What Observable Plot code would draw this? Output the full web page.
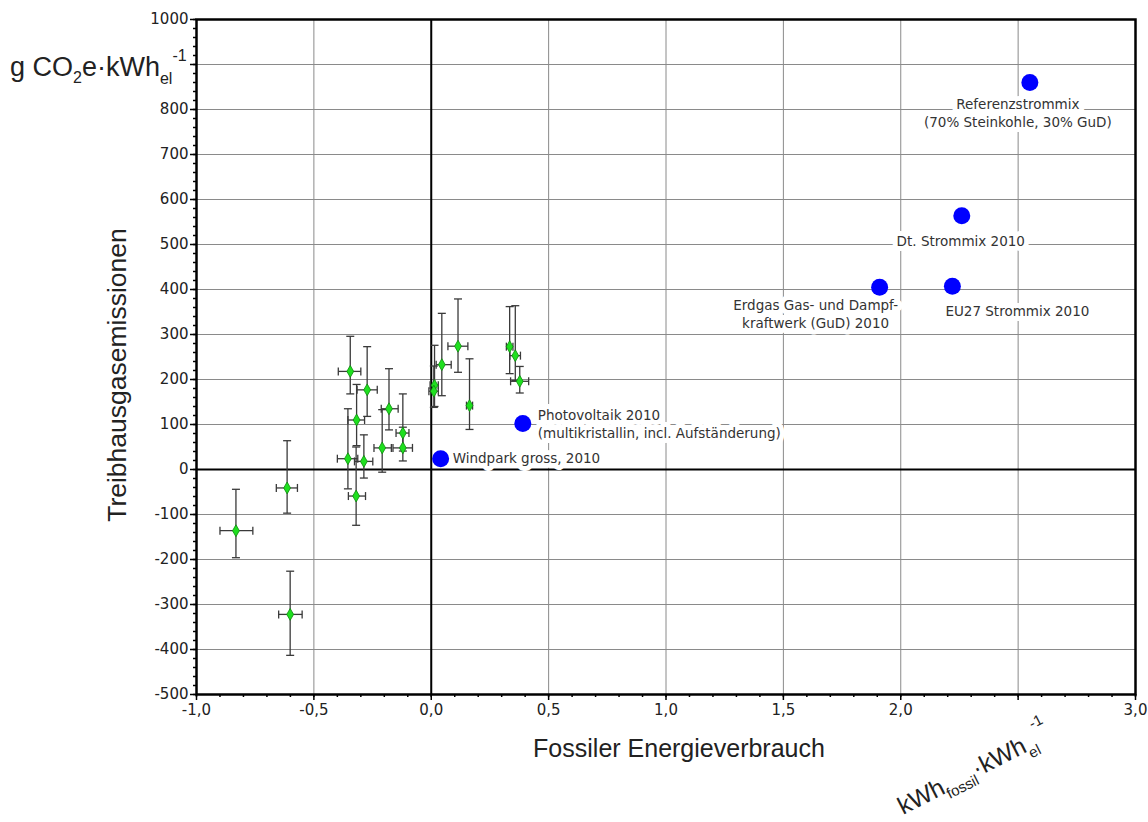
<!DOCTYPE html>
<html>
<head>
<meta charset="utf-8">
<script src="https://cdn.jsdelivr.net/npm/d3@7"></script>
<script src="https://cdn.jsdelivr.net/npm/@observablehq/plot@0.6"></script>
<style>
  body { margin: 0; background: #fff; }
  #chart svg { display: block; overflow: visible; }
</style>
</head>
<body>
<div id="chart"></div>
<script>
// ---------- data ----------
// reference systems (blue dots)
const refNames = [
  "Referenzstrommix\n(70% Steinkohle, 30% GuD)",
  "Dt. Strommix 2010",
  "EU27 Strommix 2010",
  "Erdgas Gas- und Dampf-\nkraftwerk (GuD) 2010",
  "Photovoltaik 2010\n(multikristallin, incl. Aufständerung)",
  "Windpark gross, 2010"
];
const refX = [2.55, 2.26, 2.22, 1.91, 0.39, 0.04];
const refY = [860, 564, 407, 405, 102, 24];

// individual plants (green diamonds with error bars)
const ptX   = [-0.345, -0.273, -0.318, -0.180, -0.355, -0.287, -0.320, -0.209, -0.121, -0.121, 0.045, 0.114, 0.163, 0.334, 0.358, 0.377, 0.014, 0.011, -0.614, -0.832, -0.601];
const ptY   = [218, 177, 110, 135, 24, 18, -59, 48, 81, 48, 233, 274, 142, 273, 253, 196, 187, 174, -41, -136, -322];
const ptXlo = [-0.396, -0.316, -0.355, -0.213, -0.400, -0.327, -0.353, -0.244, -0.150, -0.163, 0.021, 0.071, 0.150, 0.320, 0.335, 0.338, -0.005, -0.010, -0.66, -0.90, -0.65];
const ptXhi = [-0.300, -0.230, -0.284, -0.141, -0.313, -0.249, -0.280, -0.170, -0.095, -0.080, 0.085, 0.156, 0.176, 0.348, 0.380, 0.415, 0.030, 0.030, -0.57, -0.76, -0.55];
const ptYlo = [168, 118, 53, 88, -43, -19, -124, -6, 41, 19, 164, 216, 89, 213, 198, 170, 140, 138, -97, -196, -413];
const ptYhi = [296, 273, 189, 224, 135, 77, 50, 133, 168, 94, 347, 379, 246, 362, 364, 229, 276, 230, 64, -44, -226];

// axis ticks (2,5 and 900 labels are covered by the unit superscripts in the original)
const xTicks = [-1.0, -0.5, 0.0, 0.5, 1.0, 1.5, 2.0, 2.5, 3.0];
const xTickLabels = ["-1,0", "-0,5", "0,0", "0,5", "1,0", "1,5", "2,0", "", "3,0"];
const yTicks = [-500, -400, -300, -200, -100, 0, 100, 200, 300, 400, 500, 600, 700, 800, 900, 1000];
const yTickLabels = ["-500", "-400", "-300", "-200", "-100", "0", "100", "200", "300", "400", "500", "600", "700", "800", "", "1000"];

// ---------- tables ----------
const refs = refNames.map((name, i) => ({name, x: refX[i], y: refY[i], i}));
const pts = ptX.map((x, i) => ({x, y: ptY[i], xlo: ptXlo[i], xhi: ptXhi[i], ylo: ptYlo[i], yhi: ptYhi[i]}));
const xMinor = d3.range(-10, 31).map(d => d / 10);
const yMinor = d3.range(-500, 1001, 20);

// custom cap symbols for error bars
const capH = {draw(ctx, size) { const r = Math.sqrt(size / Math.PI); ctx.moveTo(-r, 0); ctx.lineTo(r, 0); }};
const capV = {draw(ctx, size) { const r = Math.sqrt(size / Math.PI); ctx.moveTo(0, -r); ctx.lineTo(0, r); }};

// label placement (pixel offsets relative to each blue dot)
const place = [
  {dx: -12, dy: 14, textAnchor: "middle", lineAnchor: "top"},
  {dx: -1, dy: 25, textAnchor: "middle", lineAnchor: "middle"},
  {dx: -7, dy: 24, textAnchor: "start", lineAnchor: "middle"},
  {dx: -64, dy: 10, textAnchor: "middle", lineAnchor: "top"},
  {dx: 15, dy: 0, textAnchor: "start", lineAnchor: "middle"},
  {dx: 12, dy: -1, textAnchor: "start", lineAnchor: "middle"}
];
const labelFont = "DejaVu Sans, Verdana, sans-serif";
const labelMarks = refs.map((r, i) => Plot.text([r], {
  x: "x", y: "y", text: "name",
  ...place[i],
  fontSize: 13.5, lineHeight: 1.32,
  fill: "#333", stroke: "white", strokeWidth: 10, strokeLinejoin: "round",
  fontFamily: labelFont
}));

const errColor = "#3a3a3a";
const tickFont = "DejaVu Sans, Verdana, sans-serif";

const chart = Plot.plot({
  width: 1148,
  height: 822,
  marginLeft: 196,
  marginRight: 13,
  marginTop: 19,
  marginBottom: 128,
  x: {domain: [-1, 3], label: null},
  y: {domain: [-500, 1000], label: null},
  style: {fontFamily: tickFont, fontSize: "15px", color: "#222", background: "white", overflow: "visible"},
  marks: [
    Plot.gridX(xTicks, {stroke: "#8a8a8a", strokeOpacity: 1, strokeWidth: 1}),
    Plot.gridY(yTicks, {stroke: "#8a8a8a", strokeOpacity: 1, strokeWidth: 1}),
    Plot.ruleX([0], {stroke: "black", strokeWidth: 2}),
    Plot.ruleY([0], {stroke: "black", strokeWidth: 2}),
    Plot.axisX(xMinor, {tickSize: 3, tickFormat: () => "", stroke: "black", strokeWidth: 1.5}),
    Plot.axisX(xTicks, {tickSize: 6, tickPadding: 4, tickFormat: d => xTickLabels[xTicks.indexOf(d)], stroke: "black", strokeWidth: 1.5, fontSize: 15, fill: "#222"}),
    Plot.axisY(yMinor, {tickSize: 3, tickFormat: () => "", stroke: "black", strokeWidth: 1.5}),
    Plot.axisY(yTicks, {tickSize: 6, tickPadding: 2, tickFormat: d => yTickLabels[yTicks.indexOf(d)], stroke: "black", strokeWidth: 1.5, fontSize: 15, fill: "#222"}),
    Plot.frame({stroke: "black", strokeWidth: 2.5}),
    // error bars
    Plot.link(pts, {x1: "x", x2: "x", y1: "ylo", y2: "yhi", stroke: errColor, strokeWidth: 1.3}),
    Plot.link(pts, {x1: "xlo", x2: "xhi", y1: "y", y2: "y", stroke: errColor, strokeWidth: 1.3}),
    Plot.dot(pts, {x: "x", y: "ylo", symbol: capH, r: 4, stroke: errColor, strokeWidth: 1.3, fill: "none"}),
    Plot.dot(pts, {x: "x", y: "yhi", symbol: capH, r: 4, stroke: errColor, strokeWidth: 1.3, fill: "none"}),
    Plot.dot(pts, {x: "xlo", y: "y", symbol: capV, r: 4, stroke: errColor, strokeWidth: 1.3, fill: "none"}),
    Plot.dot(pts, {x: "xhi", y: "y", symbol: capV, r: 4, stroke: errColor, strokeWidth: 1.3, fill: "none"}),
    Plot.dot(pts, {x: "x", y: "y", symbol: "diamond", r: 3.6, fill: "#1fe01f", stroke: "#0b8a0b", strokeWidth: 0.8}),
    // labels and reference dots
    ...labelMarks,
    Plot.dot(refs, {x: "x", y: "y", r: 8.5, fill: "#0000ff", stroke: "none"})
  ]
});

document.getElementById("chart").appendChild(chart);

// ---------- axis titles & units ----------
const svg = d3.select(chart);
const titleFont = "Liberation Sans, Arial, sans-serif";

svg.append("text")
  .attr("transform", "translate(126,375) rotate(-90)")
  .attr("text-anchor", "middle")
  .attr("font-family", titleFont).attr("font-size", 26.5).attr("fill", "#222")
  .text("Treibhausgasemissionen");

svg.append("text")
  .attr("x", 679).attr("y", 757)
  .attr("text-anchor", "middle")
  .attr("font-family", titleFont).attr("font-size", 25).attr("fill", "#222")
  .text("Fossiler Energieverbrauch");

// y unit: g CO2e·kWh_el^-1
const yu = svg.append("text")
  .attr("x", 10).attr("y", 76)
  .attr("text-anchor", "start")
  .attr("font-family", titleFont).attr("font-size", 27).attr("fill", "#222");
yu.append("tspan").text("g CO");
yu.append("tspan").attr("dy", 7).attr("font-size", 16).text("2");
yu.append("tspan").attr("dy", -7).text("e·kWh");
yu.append("tspan").attr("dy", 8).attr("font-size", 16).text("el");
yu.append("tspan").attr("dy", -23).attr("dx", 0).attr("font-size", 16).text("-1");

// x unit: kWh_fossil·kWh_el^-1 (rotated)
const xu = svg.append("text")
  .attr("transform", "translate(903,815) rotate(-27)")
  .attr("text-anchor", "start")
  .attr("font-family", titleFont).attr("font-size", 24.5).attr("fill", "#222");
xu.append("tspan").text("kWh");
xu.append("tspan").attr("dy", 7).attr("font-size", 15).text("fossil");
xu.append("tspan").attr("dy", -7).text("·kWh");
xu.append("tspan").attr("dy", 8).attr("font-size", 15).text("el");
xu.append("tspan").attr("dy", -26).attr("dx", 2).attr("font-size", 15).text("-1");
</script>
</body>
</html>
